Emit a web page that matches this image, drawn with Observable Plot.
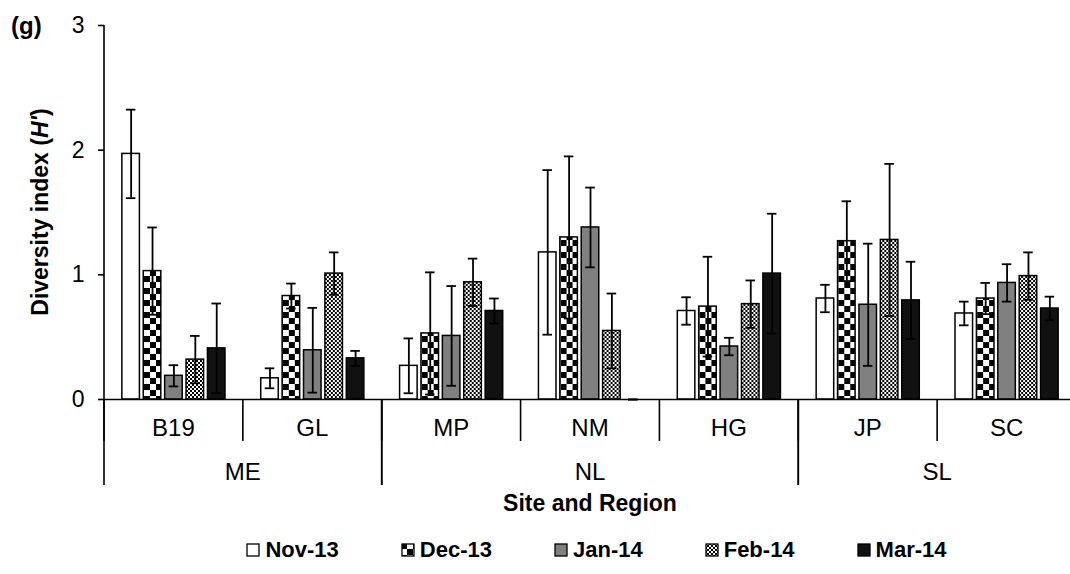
<!DOCTYPE html>
<html><head><meta charset="utf-8">
<script src="https://cdn.jsdelivr.net/npm/d3@7"></script>
<script src="https://cdn.jsdelivr.net/npm/@observablehq/plot@0.6"></script>
<style>
html,body{margin:0;padding:0;background:#fff;overflow:hidden;}
body{width:1070px;height:574px;font-family:"Liberation Sans",Arial,sans-serif;color:#000;}
#chart{width:1070px;height:525px;overflow:hidden;}
#legend{height:49px;display:flex;align-items:center;justify-content:center;padding-left:123px;gap:62px;font-weight:bold;font-size:22px;}
#legend .item{display:flex;align-items:center;gap:5px;}
g[aria-label="y-axis tick"]{stroke-width:1.6px;}
</style></head>
<body><div id="chart"></div><div id="legend"></div>
<script>
// ---- data ----
const sites = ["B19","GL","MP","NM","HG","JP","SC"];
const siteRegion = ["ME","ME","NL","NL","NL","SL","SL"];
const regions = ["ME","NL","SL"];
const months = ["Nov-13","Dec-13","Jan-14","Feb-14","Mar-14"];
const nov13 = [1.97, 0.17, 0.27, 1.18, 0.71, 0.81, 0.69];
const nov13Err = [0.355, 0.08, 0.22, 0.66, 0.11, 0.11, 0.095];
const dec13 = [1.03, 0.83, 0.53, 1.30, 0.745, 1.27, 0.81];
const dec13Err = [0.35, 0.10, 0.49, 0.65, 0.40, 0.32, 0.125];
const jan14 = [0.19, 0.395, 0.51, 1.38, 0.425, 0.76, 0.935];
const jan14Err = [0.085, 0.34, 0.40, 0.32, 0.07, 0.49, 0.15];
const feb14 = [0.32, 1.01, 0.94, 0.55, 0.765, 1.28, 0.99];
const feb14Err = [0.19, 0.17, 0.19, 0.30, 0.19, 0.61, 0.19];
const mar14 = [0.41, 0.33, 0.71, 0.0, 1.01, 0.795, 0.73];
const mar14Err = [0.36, 0.06, 0.10, 0.0, 0.48, 0.31, 0.095];
const yTicks = [0, 1, 2, 3];
const fills = ["white", "url(#pat-checker)", "#808080", "url(#pat-dots)", "#111111"];

const seriesVals = [nov13, dec13, jan14, feb14, mar14];
const seriesErr = [nov13Err, dec13Err, jan14Err, feb14Err, mar14Err];
const rows = [];
months.forEach((m, i) => sites.forEach((s, j) => rows.push({
  site: s, region: siteRegion[j], month: m, value: seriesVals[i][j], err: seriesErr[i][j]
})));

const FONT = '"Liberation Sans", Arial, sans-serif';

const plot = Plot.plot({
  width: 1076, height: 525,
  marginLeft: 104, marginRight: 0, marginTop: 25, marginBottom: 126,
  style: {fontFamily: FONT, fontSize: "23px", color: "black", background: "white", maxWidth: "none", overflow: "visible"},
  facet: {data: rows, x: "site"},
  fx: {domain: sites, paddingInner: 0, paddingOuter: 0, axis: null, label: null, round: false},
  x: {domain: months, paddingInner: 0.18, paddingOuter: 0.835, axis: null, round: false},
  y: {domain: [0, 3], ticks: yTicks, tickSize: 6, tickPadding: 14, label: null, tickFormat: d => String(d)},
  color: {type: "ordinal", domain: months, range: fills},
  marks: [
    Plot.barY(rows, {x: "month", y: "value", fill: "month", stroke: "black", strokeWidth: 1.5}),
    Plot.ruleX(rows, {x: "month", y1: d => d.value - d.err, y2: d => d.value + d.err, stroke: "black", strokeWidth: 1.8}),
    Plot.tickY(rows, {x: "month", y: d => d.value + d.err, stroke: "black", strokeWidth: 1.8, insetLeft: 4, insetRight: 4}),
    Plot.tickY(rows, {x: "month", y: d => d.value - d.err, stroke: "black", strokeWidth: 1.8, insetLeft: 4, insetRight: 4}),
    Plot.ruleY([0], {stroke: "black", strokeWidth: 1.6})
  ]
});

const svg = d3.select(plot);
// patterns
const defs = svg.insert("defs", ":first-child");
const pc = defs.append("pattern").attr("id", "pat-checker").attr("patternUnits", "userSpaceOnUse").attr("width", 12).attr("height", 12);
pc.append("rect").attr("width", 12).attr("height", 12).attr("fill", "white");
pc.append("rect").attr("width", 6).attr("height", 6).attr("fill", "black");
pc.append("rect").attr("x", 6).attr("y", 6).attr("width", 6).attr("height", 6).attr("fill", "black");
const pd = defs.append("pattern").attr("id", "pat-dots").attr("patternUnits", "userSpaceOnUse").attr("width", 4).attr("height", 4);
pd.append("rect").attr("width", 4).attr("height", 4).attr("fill", "white");
pd.append("rect").attr("width", 2).attr("height", 2).attr("fill", "black");
pd.append("rect").attr("x", 2).attr("y", 2).attr("width", 2).attr("height", 2).attr("fill", "black");

// scales from the plot
const fxS = plot.scale("fx");
const yS = plot.scale("y");
const fxBand = d3.scaleBand().domain(fxS.domain).range(fxS.range)
  .paddingInner(fxS.paddingInner ?? 0).paddingOuter(fxS.paddingOuter ?? 0).align(fxS.align ?? 0.5);
const fx = s => (fxS.apply ? fxS.apply(s) : fxBand(s));
const bw = fxS.bandwidth ?? fxBand.bandwidth();
const yPos = v => (yS.apply ? yS.apply(v) : d3.scaleLinear().domain(yS.domain).range(yS.range)(v));
const y0 = yPos(0);

const g = svg.append("g").attr("font-family", FONT).attr("fill", "black");
// y axis line
g.append("line").attr("x1", fx(sites[0])).attr("x2", fx(sites[0]))
  .attr("y1", yPos(3)).attr("y2", y0).attr("stroke", "black").attr("stroke-width", 1.6);
// site dividers
const siteEdges = sites.map(s => fx(s)).concat([fx(sites[sites.length - 1]) + bw]);
siteEdges.forEach(x => g.append("line").attr("x1", x).attr("x2", x).attr("y1", y0).attr("y2", y0 + 42)
  .attr("stroke", "black").attr("stroke-width", 1.6));
// site labels
sites.forEach(s => g.append("text").attr("x", fx(s) + bw / 2).attr("y", y0 + 28)
  .attr("dy", "0.36em").attr("text-anchor", "middle").attr("font-size", 24).text(s));
// region dividers and labels
regions.forEach(r => {
  const ss = sites.filter((s, j) => siteRegion[j] === r);
  const x1 = fx(ss[0]), x2 = fx(ss[ss.length - 1]) + bw;
  [x1, x2].forEach(x => g.append("line").attr("x1", x).attr("x2", x).attr("y1", y0).attr("y2", y0 + 86)
    .attr("stroke", "black").attr("stroke-width", 1.6));
  g.append("text").attr("x", (x1 + x2) / 2).attr("y", y0 + 72).attr("dy", "0.36em")
    .attr("text-anchor", "middle").attr("font-size", 24).text(r);
});
// x title
const xr = fxS.range;
g.append("text").attr("x", (xr[0] + xr[1]) / 2).attr("y", y0 + 104).attr("dy", "0.36em")
  .attr("text-anchor", "middle").attr("font-size", 23).attr("font-weight", "bold").text("Site and Region");
// y title
const yt = g.append("text").attr("transform", `translate(40,${(yPos(0) + yPos(3)) / 2}) rotate(-90)`)
  .attr("text-anchor", "middle").attr("dy", "0.36em").attr("font-size", 23).attr("font-weight", "bold");
yt.append("tspan").text("Diversity index (");
yt.append("tspan").attr("font-style", "italic").text("H'");
yt.append("tspan").text(")");
// panel tag
g.append("text").attr("x", 11).attr("y", yPos(3)).attr("dy", "0.36em").attr("font-size", 24)
  .attr("text-anchor", "start").attr("font-weight", "bold").text("(g)");

document.getElementById("chart").appendChild(plot);

// legend
const leg = d3.select("#legend");
months.forEach((m, i) => {
  const it = leg.append("div").attr("class", "item");
  const sw = it.append("svg").attr("width", 14).attr("height", 14);
  sw.append("rect").attr("x", 1).attr("y", 1).attr("width", 12).attr("height", 12)
    .attr("fill", fills[i]).attr("stroke", "black").attr("stroke-width", 1.3);
  it.append("span").text(m);
});
</script></body></html>
